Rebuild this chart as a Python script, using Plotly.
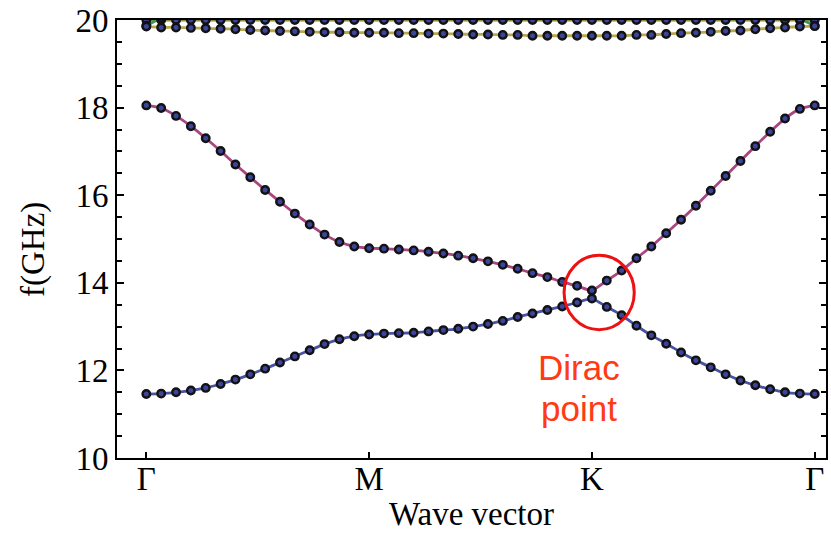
import numpy as np
import plotly.graph_objects as go

# Path through the Brillouin zone: Γ -> M -> K -> Γ, 15 steps per segment
k_labels = ["Γ", "M", "K", "Γ"]
k_nodes = [0, 1, 2, 3]
k_path = np.arange(46) / 15.0

# Band frequencies in GHz along the path
band_lower = [11.46, 11.47, 11.50, 11.54, 11.60, 11.69, 11.79, 11.91, 12.04, 12.18,
              12.32, 12.46, 12.60, 12.71, 12.78, 12.82, 12.84, 12.85, 12.86, 12.89,
              12.92, 12.95, 13.00, 13.06, 13.13, 13.22, 13.30, 13.38, 13.46, 13.55,
              13.64, 13.45, 13.26, 13.02, 12.80, 12.61, 12.41, 12.23, 12.07, 11.91,
              11.77, 11.66, 11.57, 11.50, 11.47, 11.46]
band_upper = [18.05, 17.99, 17.81, 17.575, 17.30, 17.01, 16.70, 16.41, 16.12, 15.85,
              15.58, 15.33, 15.10, 14.93, 14.83, 14.79, 14.78, 14.76, 14.74, 14.71,
              14.67, 14.62, 14.56, 14.49, 14.41, 14.32, 14.22, 14.13, 14.02, 13.93,
              13.825, 14.05, 14.28, 14.56, 14.83, 15.13, 15.44, 15.76, 16.10, 16.44,
              16.78, 17.12, 17.45, 17.75, 17.97, 18.05]
band_third = [19.85, 19.83, 19.83, 19.82, 19.81, 19.80, 19.79, 19.77, 19.76, 19.75,
              19.74, 19.73, 19.72, 19.72, 19.71, 19.71, 19.71, 19.70, 19.70, 19.69,
              19.69, 19.68, 19.67, 19.67, 19.66, 19.66, 19.64, 19.64, 19.64, 19.64,
              19.64, 19.64, 19.64, 19.66, 19.66, 19.68, 19.70, 19.71, 19.73, 19.75,
              19.76, 19.79, 19.81, 19.83, 19.85, 19.86]
band_fourth = [20.00, 20.00, 20.00, 20.00, 20.00, 20.00, 20.00, 20.00, 20.00, 20.00,
               20.00, 20.00, 20.00, 20.00, 20.00, 20.00, 20.00, 20.00, 20.00, 20.00,
               20.00, 20.00, 20.00, 20.00, 20.00, 20.00, 20.00, 20.00, 20.00, 20.00,
               20.00, 20.00, 20.00, 20.00, 20.00, 20.00, 20.00, 20.00, 20.00, 20.00,
               20.00, 20.00, 20.00, 20.00, 20.00, 20.00]
band_fifth = [19.87, 20.05, 20.24, 20.42, 20.58, 20.72, 20.84, 20.94, 21.02, 21.08,
              21.12, 21.15, 21.17, 21.18, 21.19, 21.19, 21.20, 21.21, 21.22, 21.24,
              21.26, 21.28, 21.30, 21.32, 21.33, 21.34, 21.34, 21.33, 21.32, 21.30,
              21.28, 21.25, 21.22, 21.18, 21.13, 21.07, 21.00, 20.91, 20.81, 20.69,
              20.55, 20.40, 20.24, 20.08, 20.02, 19.87]

bands = [
    (band_fourth, "#8a8a3a"),
    (band_fifth, "#3c9a4c"),
    (band_third, "#b9a650"),
    (band_upper, "#a9457f"),
    (band_lower, "#4a52a3"),
]

serif = "Liberation Serif"
fsize = 33

fig = go.Figure()

# Band lines first, so the sample points sit on top of every line
for vals, col in bands:
    fig.add_trace(go.Scatter(x=k_path, y=vals, mode="lines",
                             line=dict(color=col, width=2.8, shape="spline", smoothing=0.6),
                             hoverinfo="skip", showlegend=False, cliponaxis=True))
for vals, col in bands:
    fig.add_trace(go.Scatter(x=k_path, y=vals, mode="markers",
                             marker=dict(size=7.5, color="#3c449c",
                                         line=dict(color="#121212", width=2.4)),
                             showlegend=False, cliponaxis=True))

# Highlight of the band crossing at K
fig.add_shape(type="circle", xref="x", yref="y",
              x0=1.875, x1=2.19, y0=12.93, y1=14.63,
              line=dict(color="#ee1111", width=3))

fig.add_annotation(x=1.94, y=12.06, xref="x", yref="y", text="Dirac",
                   showarrow=False, font=dict(family="Liberation Sans", size=35, color="#ff3a14"))
fig.add_annotation(x=1.94, y=11.12, xref="x", yref="y", text="point",
                   showarrow=False, font=dict(family="Liberation Sans", size=35, color="#ff3a14"))

# Vertical axis title
fig.add_annotation(x=-0.117, y=0.475, xref="paper", yref="paper", text="f(GHz)",
                   textangle=-90, showarrow=False, xanchor="center", yanchor="middle",
                   font=dict(family=serif, size=fsize, color="black"))

fig.update_xaxes(range=[-0.1316, 3.0506], tickmode="array", tickvals=k_nodes, ticktext=k_labels,
                 ticks="inside", ticklen=6, tickwidth=2, tickcolor="black",
                 ticklabelstandoff=-10,
                 showline=True, linecolor="black", linewidth=2, mirror=True,
                 showgrid=False, zeroline=False,
                 tickfont=dict(family=serif, size=fsize, color="black"),
                 title=dict(text="Wave vector", standoff=6,
                            font=dict(family=serif, size=fsize, color="black")))
fig.update_yaxes(range=[10, 20], tick0=10, dtick=2,
                 ticks="inside", ticklen=7, tickwidth=2, tickcolor="black",
                 minor=dict(dtick=0.5, ticks="inside", ticklen=5, tickwidth=2, tickcolor="black"),
                 showline=True, linecolor="black", linewidth=2, mirror="ticks",
                 showgrid=False, zeroline=False,
                 tickfont=dict(family=serif, size=fsize, color="black"))

fig.update_layout(width=831, height=535,
                  margin=dict(l=117, r=3, t=18, b=77),
                  plot_bgcolor="white", paper_bgcolor="white")

fig.write_html("out.html")
